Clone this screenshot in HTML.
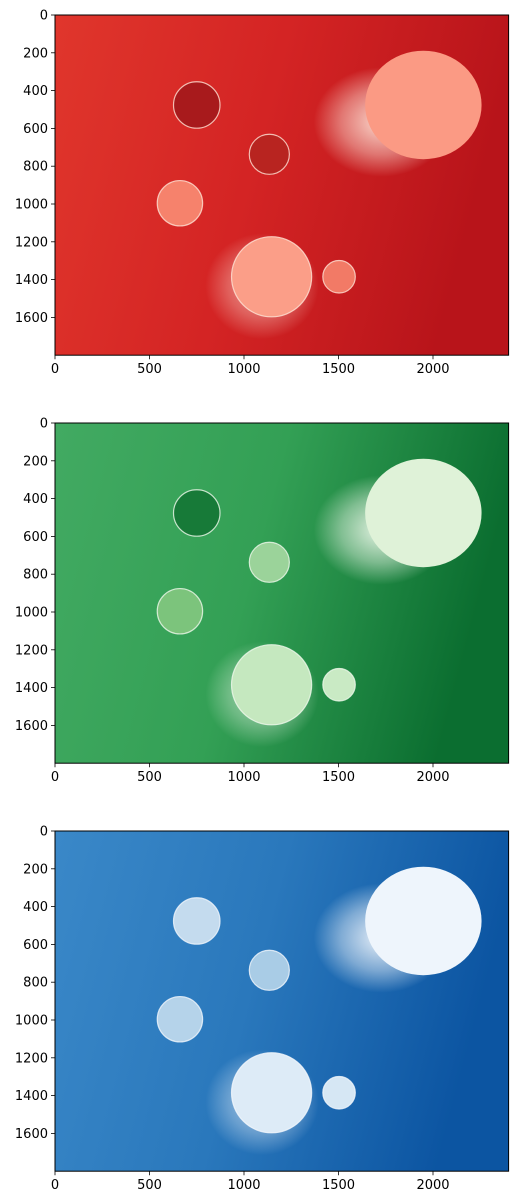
<!DOCTYPE html>
<html><head><meta charset="utf-8"><style>
html,body{margin:0;padding:0;background:#fff;}
svg{display:block;font-family:"DejaVu Sans","Liberation Sans",sans-serif;}
</style></head><body>
<svg id="fig" width="517" height="1204" viewBox="0 0 517 1204" xmlns="http://www.w3.org/2000/svg">
<defs id="defs"></defs>
</svg>
<script>
const objNames = ["coin-50c","coin-20c","coin-1e","coin-large","coin-small","fruit"];
const objX = [750,1134,661,1146,1503,1949];
const objY = [476,737,996,1385,1385,476];
const objRX = [123,106,120,212,86,308];
const objRY = [123,106,120,212,86,287];
const xTicks = [0,500,1000,1500,2000];
const yTicks = [0,200,400,600,800,1000,1200,1400,1600];
const panelNames = ["red-channel","green-channel","blue-channel"];
const bgLeft = ["#e0362c","#42aa62","#3a88c8"];
const bgMid = ["#d42424","#33a055","#2a78bc"];
const bgRight = ["#b8141a","#0b6e30","#0c55a2"];
const glowCol = ["#fee3d6","#f0f9ec","#f4f8fd"];
const fills = [
 ["#a81a1c","#b82420","#f6826c","#fb9e88","#f27a66","#fb9a84"],
 ["#177a38","#9bd39a","#7cc47c","#c5e8bf","#c9eac4","#dff2d8"],
 ["#c4dbee","#a9cce6","#b5d3ea","#ddebf7","#d6e7f4","#eef5fc"]
];
const W=2400,H=1800,X0=55,S=0.189,tops=[15,423,831];
const NS="http://www.w3.org/2000/svg";
const svg=document.getElementById('fig'),defs=document.getElementById('defs');
function mk(t,a,p){const e=document.createElementNS(NS,t);for(const k in a)e.setAttribute(k,a[k]);(p||svg).appendChild(e);return e;}
panelNames.forEach((pn,pi)=>{
 const top=tops[pi];
 const sx=v=>X0+v*S, sy=v=>top+v*S;
 const g=mk('g',{});
 
 
 const lg=mk('linearGradient',{id:'bg'+pi,x1:0,y1:0,x2:1,y2:0.2},defs);
 mk('stop',{offset:0,'stop-color':bgLeft[pi]},lg);mk('stop',{offset:0.5,'stop-color':bgMid[pi]},lg);mk('stop',{offset:1,'stop-color':bgRight[pi]},lg);
 const rg=mk('radialGradient',{id:'gl'+pi},defs);
 mk('stop',{offset:0,'stop-color':glowCol[pi],'stop-opacity':0.95},rg);
 mk('stop',{offset:0.6,'stop-color':glowCol[pi],'stop-opacity':0.45},rg);
 mk('stop',{offset:1,'stop-color':glowCol[pi],'stop-opacity':0},rg);
 const cp=mk('clipPath',{id:'cp'+pi},defs);
 mk('rect',{x:X0,y:top,width:W*S,height:H*S},cp);
 const img=mk('g',{'clip-path':'url(#cp'+pi+')'},g);
 const bg=mk('rect',{x:X0,y:top,width:W*S,height:H*S,fill:'url(#bg'+pi+')'},img);
 
 
 mk('ellipse',{cx:sx(objX[5]-220),cy:sy(objY[5]+90),rx:360*S,ry:290*S,fill:'url(#gl'+pi+')'},img);
 mk('ellipse',{cx:sx(objX[3]-50),cy:sy(objY[3]+50),rx:300*S,ry:280*S,fill:'url(#gl'+pi+')',opacity:0.7},img);
 objNames.forEach((on,i)=>{
  const e=mk('ellipse',{cx:sx(objX[i]),cy:sy(objY[i]),rx:objRX[i]*S,ry:objRY[i]*S,fill:fills[pi][i],stroke:glowCol[pi],'stroke-width':i<5?1.2:0,'stroke-opacity':0.8},img);
  
  
 });
 mk('rect',{x:X0,y:top,width:W*S,height:H*S,fill:'none',stroke:'#000','stroke-width':1},g);
 xTicks.forEach(t=>{
  mk('line',{x1:sx(t),x2:sx(t),y1:top+H*S,y2:top+H*S+4,stroke:'#000','stroke-width':0.8},g);
  const tx=mk('text',{x:sx(t),y:top+H*S+18,'text-anchor':'middle','font-size':13,fill:'#000'},g);
  tx.textContent=t;
  
  
 });
 yTicks.forEach(t=>{
  mk('line',{x1:X0-4,x2:X0,y1:sy(t),y2:sy(t),stroke:'#000','stroke-width':0.8},g);
  const tx=mk('text',{x:X0-7,y:sy(t)+4.5,'text-anchor':'end','font-size':13,fill:'#000'},g);
  tx.textContent=t;
  
  
 });
});
</script>
</body></html>
